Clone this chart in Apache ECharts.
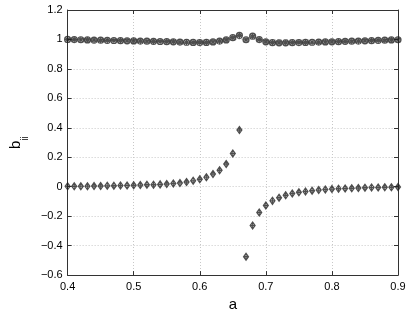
<!DOCTYPE html>
<html>
<head>
<meta charset="utf-8">
<script src="https://cdn.jsdelivr.net/npm/echarts@6/dist/echarts.min.js"></script>
<style>html,body{margin:0;padding:0;background:#fff;}#c{width:409px;height:317px;}</style>
</head>
<body>
<div id="c"></div>
<script>
var aValues = [0.40,0.41,0.42,0.43,0.44,0.45,0.46,0.47,0.48,0.49,0.50,0.51,0.52,0.53,0.54,0.55,0.56,0.57,0.58,0.59,0.60,0.61,0.62,0.63,0.64,0.65,0.66,0.67,0.68,0.69,0.70,0.71,0.72,0.73,0.74,0.75,0.76,0.77,0.78,0.79,0.80,0.81,0.82,0.83,0.84,0.85,0.86,0.87,0.88,0.89,0.90];
var bDiag = [1.000,0.999,0.998,0.997,0.996,0.995,0.994,0.993,0.992,0.991,0.990,0.989,0.988,0.987,0.986,0.985,0.984,0.982,0.981,0.980,0.979,0.980,0.983,0.989,0.997,1.012,1.028,0.998,1.022,0.999,0.984,0.978,0.977,0.977,0.978,0.979,0.980,0.981,0.982,0.983,0.984,0.985,0.987,0.988,0.989,0.991,0.992,0.994,0.995,0.997,0.998];
var bOff = [0.003,0.003,0.004,0.004,0.005,0.005,0.006,0.007,0.008,0.009,0.010,0.011,0.013,0.014,0.016,0.019,0.022,0.026,0.032,0.040,0.051,0.065,0.087,0.112,0.154,0.226,0.385,-0.475,-0.263,-0.175,-0.128,-0.096,-0.075,-0.058,-0.046,-0.038,-0.032,-0.027,-0.023,-0.019,-0.016,-0.014,-0.012,-0.010,-0.009,-0.007,-0.006,-0.005,-0.004,-0.003,-0.002];
var xTicks = [0.4,0.5,0.6,0.7,0.8,0.9];
var yTicks = [-0.6,-0.4,-0.2,0,0.2,0.4,0.6,0.8,1,1.2];

function pairs(ys){ return aValues.map(function(a,i){ return [a, ys[i]]; }); }
function fmt(v){ var r = Math.round(v*10)/10; return String(r).replace('-', '\u2212'); }

var circSym = 'path://M0,-5A5,5 0 1,1 0,5A5,5 0 1,1 0,-5ZM-3.5,-3.5L3.5,3.5M-3.5,3.5L3.5,-3.5M0,-5L0,5M-5,0L5,0';
var diamSym = 'path://M0,-5L3.5,0L0,5L-3.5,0ZM0,-5L0,5M-3.5,0L3.5,0';

var chart = echarts.init(document.getElementById('c'), null, {renderer:'canvas'});
var axisCol = '#333';
var font = 'Liberation Sans, Arial, sans-serif';
chart.setOption({
  animation:false,
  backgroundColor:'#fff',
  grid:{left:50,right:11,top:10,bottom:35},
  xAxis:[{
    type:'value', min:0.4, max:0.9, interval:0.1,
    name:'a', nameLocation:'middle', nameGap:21,
    nameTextStyle:{fontSize:15, color:'#000', fontFamily:font},
    axisLine:{show:true, onZero:false, lineStyle:{color:axisCol, width:1}},
    axisTick:{show:true, inside:true, length:4, lineStyle:{color:axisCol}},
    axisLabel:{formatter:function(v){return v.toFixed(1);}, fontSize:11, color:'#000', fontFamily:font, margin:6},
    splitLine:{show:true, lineStyle:{color:'#c8c8c8', type:[1,2], width:1}}
  },{
    type:'value', position:'top', min:0.4, max:0.9, interval:0.1,
    axisLine:{show:true, onZero:false, lineStyle:{color:axisCol, width:1}},
    axisTick:{show:true, inside:true, length:4, lineStyle:{color:axisCol}},
    axisLabel:{show:false}, splitLine:{show:false}
  }],
  yAxis:[{
    type:'value', min:-0.6, max:1.2, interval:0.2,
    name:'{b|b}{s|ii}', nameLocation:'middle', nameGap:32, nameRotate:90,
    nameTextStyle:{color:'#000', fontFamily:font, rich:{
      b:{fontSize:15, fontFamily:font, color:'#000', padding:[0,0,7,0], verticalAlign:'top'},
      s:{fontSize:10, fontFamily:font, color:'#000', verticalAlign:'bottom'}
    }},
    axisLine:{show:true, onZero:false, lineStyle:{color:axisCol, width:1}},
    axisTick:{show:true, inside:true, length:4, lineStyle:{color:axisCol}},
    axisLabel:{formatter:fmt, fontSize:11, color:'#000', fontFamily:font, margin:5},
    splitLine:{show:true, lineStyle:{color:'#c8c8c8', type:[1,2], width:1}}
  },{
    type:'value', position:'right', min:-0.6, max:1.2, interval:0.2,
    axisLine:{show:true, onZero:false, lineStyle:{color:axisCol, width:1}},
    axisTick:{show:true, inside:true, length:4, lineStyle:{color:axisCol}},
    axisLabel:{show:false}, splitLine:{show:false}
  }],
  series:[{
    type:'scatter', data:pairs(bDiag), symbol:circSym, symbolSize:6,
    itemStyle:{color:'rgba(0,0,0,0)', borderColor:'#222', borderWidth:1.2}
  },{
    type:'scatter', data:pairs(bOff), symbol:diamSym, symbolSize:[5,7],
    itemStyle:{color:'rgba(0,0,0,0)', borderColor:'#222', borderWidth:1.2}
  }]
});
</script>
</body>
</html>
